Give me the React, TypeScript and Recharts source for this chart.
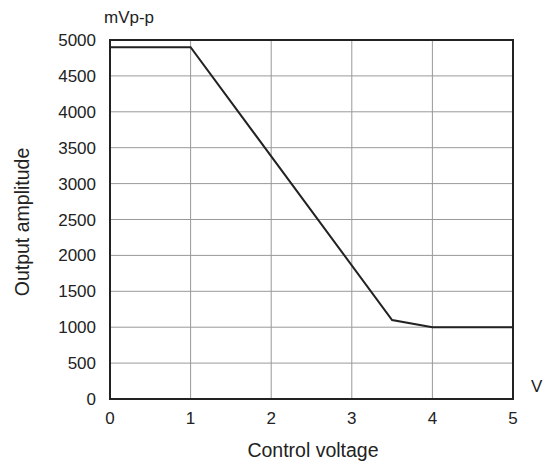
import { LineChart, Line, XAxis, YAxis, CartesianGrid, ReferenceArea } from 'recharts';

const voltage = [0, 1, 3.5, 4, 5];
const amplitude = [4900, 4900, 1100, 1000, 1000];
const xTicks = [0, 1, 2, 3, 4, 5];
const yTicks = [0, 500, 1000, 1500, 2000, 2500, 3000, 3500, 4000, 4500, 5000];

const data = voltage.map((v, i) => ({ v, amp: amplitude[i] }));

const tickFont = { fontFamily: 'Liberation Sans, Arial, sans-serif', fontSize: 17, fill: '#222' };
const titleFont = { fontFamily: 'Liberation Sans, Arial, sans-serif', fontSize: 19.5, fill: '#222' };

export default function App() {
  return (
    <div style={{ position: 'absolute', left: 0, top: 0, width: 552, height: 466, background: '#fff' }}>
      <LineChart width={552} height={466} data={data} margin={{ top: 40, right: 39, bottom: 0, left: 0 }}>
        <CartesianGrid stroke="#999" strokeWidth={1} horizontalValues={yTicks} verticalValues={xTicks} />
        <XAxis
          type="number"
          dataKey="v"
          domain={[0, 5]}
          ticks={xTicks}
          interval={0}
          height={67}
          axisLine={false}
          tickLine={false}
          tick={tickFont}
          tickMargin={7}
        />
        <YAxis
          type="number"
          domain={[0, 5000]}
          ticks={yTicks}
          interval={0}
          width={110}
          axisLine={false}
          tickLine={false}
          tick={tickFont}
          tickMargin={8}
        />
        <ReferenceArea x1={0} x2={5} y1={0} y2={5000} fill="none" stroke="#222" strokeWidth={2} fillOpacity={0} />
        <Line
          type="linear"
          dataKey="amp"
          stroke="#222"
          strokeWidth={2}
          dot={false}
          isAnimationActive={false}
        />
        <text x={104} y={23} style={tickFont}>mVp-p</text>
        <text x={531} y={392} style={tickFont}>V</text>
        <text x={313} y={457} textAnchor="middle" style={titleFont}>Control voltage</text>
        <text
          x={29}
          y={222}
          textAnchor="middle"
          transform="rotate(-90 29 222)"
          style={titleFont}
        >
          Output amplitude
        </text>
      </LineChart>
    </div>
  );
}
